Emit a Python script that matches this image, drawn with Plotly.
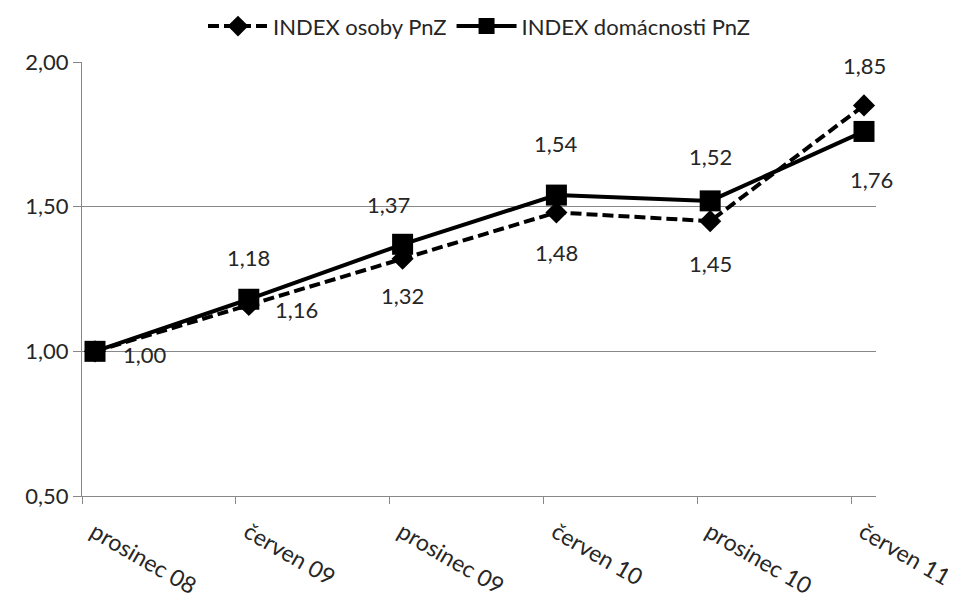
import plotly.graph_objects as go

categories = ["prosinec 08", "červen 09", "prosinec 09", "červen 10", "prosinec 10", "červen 11"]
osoby = [1.00, 1.16, 1.32, 1.48, 1.45, 1.85]
domacnosti = [1.00, 1.18, 1.37, 1.54, 1.52, 1.76]
y_ticks = [0.5, 1.0, 1.5, 2.0]
y_tick_text = ["0,50", "1,00", "1,50", "2,00"]

x = list(range(len(categories)))
STEP = 153.8
tick_offset = 13 / STEP
FONT = "Lato, Calibri, sans-serif"
TXT = "#262626"

fig = go.Figure()
fig.add_trace(go.Scatter(
    x=x, y=osoby, name="INDEX osoby PnZ", mode="lines+markers",
    line=dict(color="black", width=4, dash="11px,5px"),
    marker=dict(symbol="diamond", size=17, color="black"),
))
fig.add_trace(go.Scatter(
    x=x, y=domacnosti, name="INDEX domácnosti PnZ", mode="lines+markers",
    line=dict(color="black", width=4),
    marker=dict(symbol="square", size=21, color="black"),
))

def fmt(v):
    return f"{v:.2f}".replace(".", ",")

# label offsets (pixels) for each series
osoby_shift = [(50, -3), (48, -4), (0, -37), (0, -40), (0, -42), (0, 40)]
dom_shift = [None, (0, 42), (-14, 40), (0, 52), (0, 44), (7, -48)]

anns = []
for i, v in enumerate(osoby):
    dx, dy = osoby_shift[i]
    anns.append(dict(x=x[i], y=v, text=fmt(v), showarrow=False, xshift=dx, yshift=dy,
                     font=dict(family=FONT, size=22, color=TXT)))
for i, v in enumerate(domacnosti):
    if dom_shift[i] is None:
        continue
    dx, dy = dom_shift[i]
    anns.append(dict(x=x[i], y=v, text=fmt(v), showarrow=False, xshift=dx, yshift=dy,
                     font=dict(family=FONT, size=22, color=TXT)))

# page body has an 8px margin: compensate
fig.update_layout(
    width=948, height=592,
    margin=dict(l=74, r=80, t=54, b=104, autoexpand=False),
    plot_bgcolor="white", paper_bgcolor="white",
    font=dict(family=FONT, size=22, color=TXT),
    legend=dict(orientation="h", x=0.5, xanchor="center", y=1.034, yanchor="bottom",
                font=dict(family=FONT, size=22, color=TXT), itemwidth=60,
                tracegroupgap=0),
    showlegend=True,
    annotations=anns,
    xaxis=dict(
        range=[-tick_offset, (876 - 95) / STEP],
        tickmode="array",
        tickvals=[i - tick_offset for i in x],
        ticktext=categories,
        tickangle=30,
        ticklabelshift=12, ticklabelstandoff=6,
        showgrid=False, zeroline=False,
        showline=True, linecolor="#888", linewidth=1,
        ticks="outside", ticklen=7, tickcolor="#888",
        tickfont=dict(family=FONT, size=23, color=TXT),
    ),
    yaxis=dict(
        range=[0.5, 2.0],
        tickmode="array", tickvals=y_ticks, ticktext=y_tick_text,
        showgrid=True, gridcolor="#888", gridwidth=1,
        zeroline=False, showline=True, linecolor="#888", linewidth=1,
        ticks="outside", ticklen=8, tickcolor="#888",
        tickfont=dict(family=FONT, size=22, color=TXT),
    ),
)
fig.write_html("out.html")
